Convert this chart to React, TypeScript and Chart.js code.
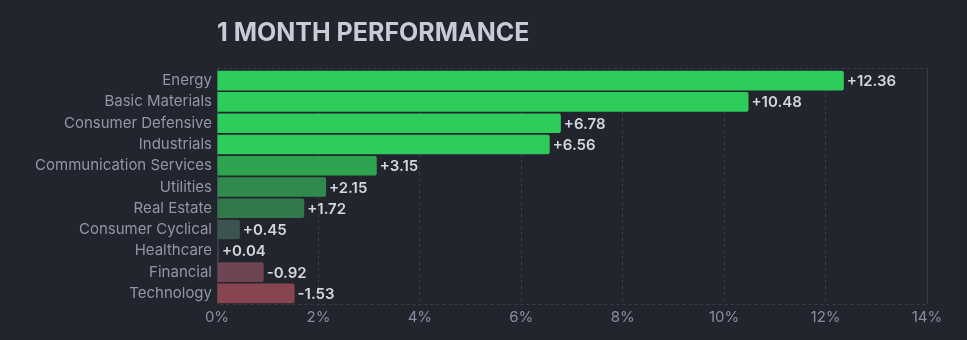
import React, { useEffect, useRef } from "react";
import { Chart, registerables } from "chart.js";

Chart.register(...registerables);

const categories = [
  "Energy",
  "Basic Materials",
  "Consumer Defensive",
  "Industrials",
  "Communication Services",
  "Utilities",
  "Real Estate",
  "Consumer Cyclical",
  "Healthcare",
  "Financial",
  "Technology",
];
const performance = [12.36, 10.48, 6.78, 6.56, 3.15, 2.15, 1.72, 0.45, 0.04, -0.92, -1.53];
const barColors = [
  "#2ecc5b",
  "#2ecc5b",
  "#2ecc5b",
  "#2ecc5b",
  "#2ea350",
  "#2f8b4d",
  "#32784b",
  "#3d5350",
  "#3b4150",
  "#6e4552",
  "#87464f",
];
const xTicks = [0, 2, 4, 6, 8, 10, 12, 14];
const title = "1 MONTH PERFORMANCE";

const FONT = "Inter, 'Noto Sans', sans-serif";

const extrasPlugin = {
  id: "extras",
  beforeDatasetsDraw(chart: any) {
    const { ctx, chartArea } = chart;
    ctx.save();
    ctx.strokeStyle = "#3a3e4b";
    ctx.lineWidth = 1;
    ctx.setLineDash([3, 3]);
    const top = Math.round(chartArea.top) - 2;
    ctx.strokeRect(
      Math.round(chartArea.left) + 0.5,
      top + 0.5,
      Math.round(chartArea.right - chartArea.left),
      Math.round(chartArea.bottom) - top
    );
    ctx.restore();
  },
  afterDatasetsDraw(chart: any) {
    const { ctx, chartArea } = chart;
    const meta = chart.getDatasetMeta(0);
    ctx.save();
    ctx.font = `600 15px ${FONT}`;
    ctx.fillStyle = "#d3d5df";
    ctx.textBaseline = "middle";
    ctx.textAlign = "left";
    meta.data.forEach((bar: any, i: number) => {
      const v = performance[i];
      const txt = (v >= 0 ? "+" : "") + v.toFixed(2);
      ctx.fillText(txt, bar.x + 3, bar.y + 1);
    });
    ctx.font = `bold 25px ${FONT}`;
    ctx.fillStyle = "#c9cbd6";
    ctx.textBaseline = "middle";
    ctx.fillText(title, chartArea.left, 33);
    ctx.restore();
  },
};

export default function App() {
  const ref = useRef<HTMLCanvasElement>(null);
  useEffect(() => {
    document.body.style.margin = "0";
    document.body.style.background = "#22252e";
    const chart = new Chart(ref.current!, {
      type: "bar",
      data: {
        labels: categories,
        datasets: [
          {
            data: performance.map((v) => Math.abs(v)),
            backgroundColor: barColors,
            borderRadius: 2,
            borderSkipped: "start",
            barPercentage: 0.92,
            categoryPercentage: 1,
          },
        ],
      },
      options: {
        indexAxis: "y",
        animation: false,
        responsive: false,
        maintainAspectRatio: false,
        layout: { padding: { top: 70, right: 40, left: 0, bottom: 0 } },
        plugins: {
          legend: { display: false },
          tooltip: { enabled: false },
          title: { display: false },
        },
        scales: {
          x: {
            min: 0,
            max: 14,
            afterBuildTicks: (scale: any) => {
              scale.ticks = xTicks.map((v) => ({ value: v }));
            },
            afterFit: (scale: any) => {
              scale.height = 36;
            },
            ticks: {
              color: "#8a8ea1",
              font: { family: FONT, size: 15 },
              padding: 4,
              callback: (v: any) => v + "%",
            },
            grid: {
              color: "#3a3e4b",
              drawTicks: false,
              tickLength: 0,
            },
            border: { display: false, dash: [3, 3] },
          },
          y: {
            afterFit: (scale: any) => {
              scale.width = 217;
            },
            ticks: {
              color: "#9296a9",
              font: { family: FONT, size: 15 },
              padding: 5,
            },
            grid: { display: false, drawTicks: false, tickLength: 0 },
            border: { display: false },
          },
        },
      },
      plugins: [extrasPlugin],
    } as any);
    (chart.options.scales as any).x.grid.borderDash = [3, 3];
    (chart.options.scales as any).x.border.dash = [3, 3];
    chart.update();
    return () => chart.destroy();
  }, []);
  return (
    <div style={{ width: 967, height: 340, background: "#22252e" }}>
      <canvas ref={ref} width={967} height={340} style={{ display: "block" }} />
    </div>
  );
}
